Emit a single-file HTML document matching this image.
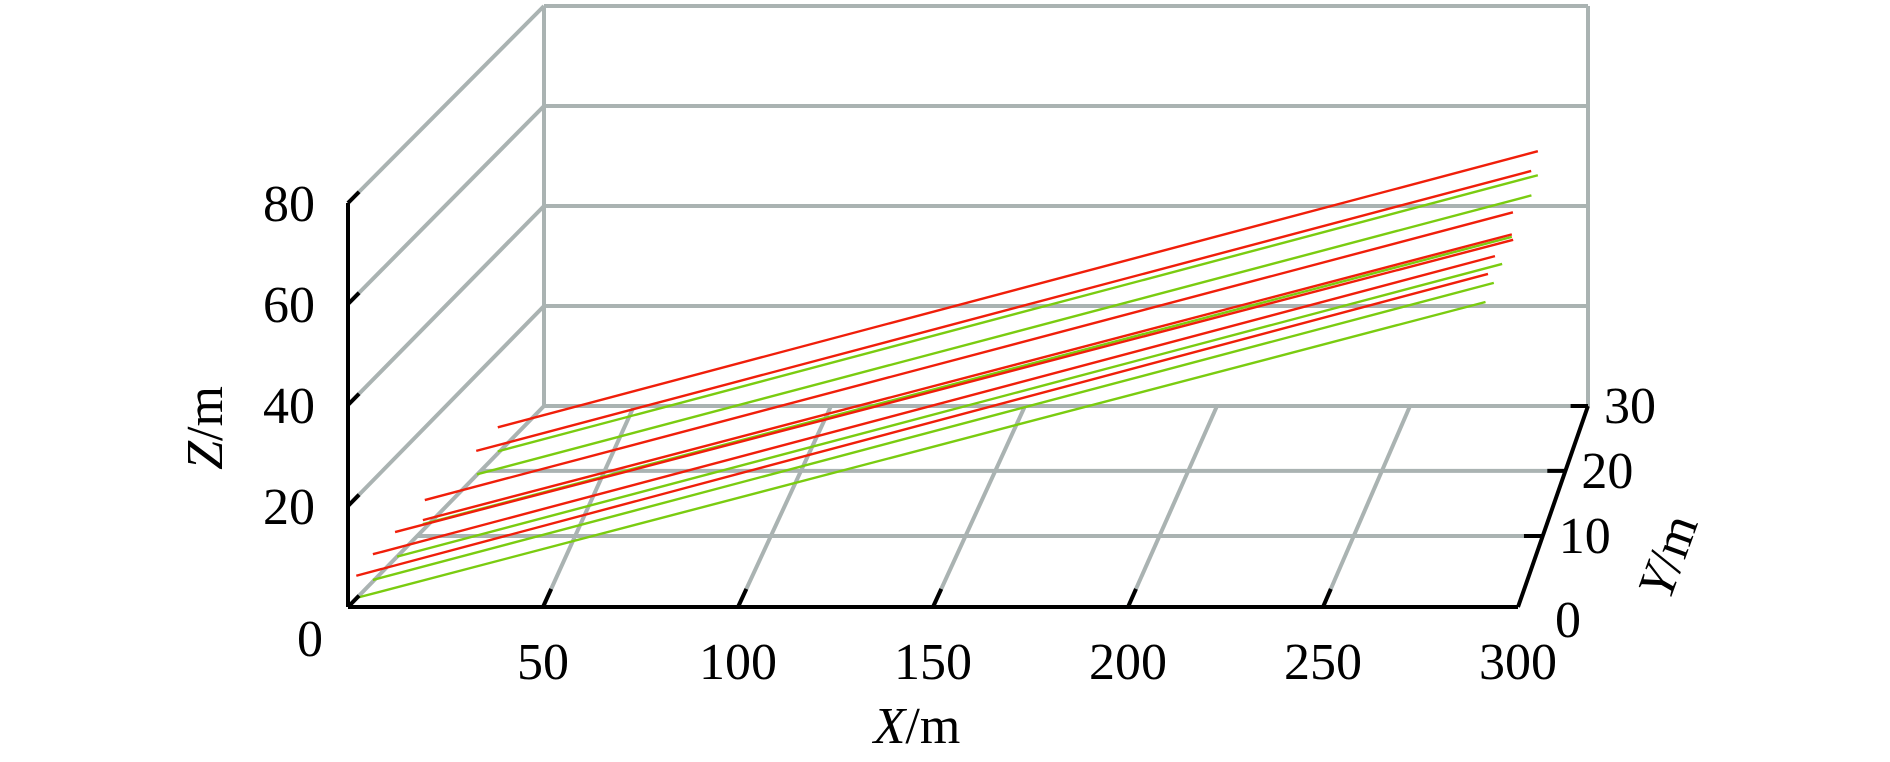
<!DOCTYPE html>
<html><head><meta charset="utf-8"><style>
html,body{margin:0;padding:0;background:#fff;}
svg{display:block;}
text{font-family:"Liberation Serif",serif;fill:#000;}
</style></head><body>
<svg id="chart" width="1890" height="762" viewBox="0 0 1890 762" xmlns="http://www.w3.org/2000/svg">
<g id="grid"></g>
<g id="series"></g>
<g id="axes"></g>
<g id="labels"></g>
</svg>
<script>
const xTicks = [50, 100, 150, 200, 250, 300];
const yTicks = [0, 10, 20, 30];
const zTicks = [0, 20, 40, 60, 80];
const lineType = ['red','green','red','green','red','green','red','red','green','red','green','red','green'];
const lineY  = [22.7, 22.7, 19.3, 19.4, 11.2, 10.9, 10.9, 6.8, 7.1, 3.6, 3.6, 1.2, 1.3];
const lineX0 = [0, 0, 0, 0, 0, 0, 0, 0, 0, 0, 0, 0, 0];
const lineX1 = [290.6, 290.6, 291, 291, 291.3, 291.2, 291.2, 294.3, 291.2, 291.7, 291.4, 291.5, 290.8];
const lineZ0 = [5.2, 0.4, 4.9, 0.1, 5.6, 1.2, 2.0, 5.3, 0, 5.4, 0.3, 4.5, 0];
const lineZ1 = [60.3, 55.5, 60.7, 55.7, 62.8, 58.3, 58.8, 63.3, 58.1, 64.5, 59.2, 64.3, 58.6];

const NS = 'http://www.w3.org/2000/svg';
const depthT = [0, 0.353, 0.677, 1];
// back-edge x positions of floor grid lines (layout)
const floorBackX = [634, 831, 1025, 1217, 1410];
function tOfY(y){
  const k = Math.min(2, Math.floor(y/10));
  return depthT[k] + (y - k*10)/10*(depthT[k+1]-depthT[k]);
}
function P(X, Y, Z){
  const t = tOfY(Y);
  const xl = 348 + 196*t, xr = 1518 + 70*t;
  const base = 607 - 201*t, zs = 5.05 - 0.05*t;
  return [xl + X*(xr-xl)/300, base - Z*zs];
}
function line(g, a, b, stroke, w, name){
  const l = document.createElementNS(NS,'line');
  l.setAttribute('x1',a[0]);l.setAttribute('y1',a[1]);
  l.setAttribute('x2',b[0]);l.setAttribute('y2',b[1]);
  l.setAttribute('stroke',stroke);l.setAttribute('stroke-width',w);
  
  
  g.appendChild(l);
}
function text(g, x, y, s, name, extra){
  const t = document.createElementNS(NS,'text');
  t.setAttribute('x',x);t.setAttribute('y',y);
  t.setAttribute('font-size','52');t.setAttribute('text-anchor','middle');
  if(extra) t.setAttribute('transform',extra);
  t.innerHTML = s;
  
  
  g.appendChild(t);
  return t;
}
const grid = document.getElementById('grid');
const G = '#aab3b2';
line(grid, P(0,30,0), P(0,30,80), G, 4, 'back-wall-left-edge');
line(grid, P(300,30,0), P(300,30,80), G, 4, 'back-wall-right-edge');
zTicks.forEach(z => {
  line(grid, P(0,30,z), P(300,30,z), G, 4, 'back-grid-z-' + z);
  line(grid, P(0,0,z), P(0,30,z), G, 4, 'left-grid-z-' + z);
});
[10,20].forEach(y => line(grid, P(0,y,0), P(300,y,0), G, 4, 'floor-grid-y-' + y));
const backY = P(0,30,0)[1];
xTicks.slice(0,5).forEach((x,i) => line(grid, P(x,0,0), [floorBackX[i], backY], G, 4, 'floor-grid-x-' + x));

const series = document.getElementById('series');
for(let i=0;i<lineType.length;i++){
  const a = P(lineX0[i], lineY[i], lineZ0[i]);
  const b = P(lineX1[i], lineY[i], lineZ1[i]);
  line(series, a, b, lineType[i]==='red' ? '#f01e0a' : '#7acc10', 2.4, 'series-line-' + lineType[i] + '-' + i);
}

const axes = document.getElementById('axes');
line(axes, P(0,0,0), P(0,0,80), '#000', 4, 'z-axis-line');
line(axes, P(0,0,0), P(300,0,0), '#000', 4, 'x-axis-line');
line(axes, P(300,0,0), P(300,30,0), '#000', 4, 'y-axis-line');
zTicks.forEach(z => line(axes, P(0,0,z), P(0,1.6,z), '#000', 4, 'z-tick-' + z));
xTicks.slice(0,5).forEach((x,i) => {
  const a = P(x,0,0);
  const f = 0.09;
  line(axes, a, [a[0] + (floorBackX[i]-a[0])*f, a[1] + (backY-a[1])*f], '#000', 4, 'x-tick-' + x);
});
yTicks.slice(1).forEach(y => line(axes, P(300,y,0), P(295,y,0), '#000', 4, 'y-tick-' + y));

const lab = document.getElementById('labels');
zTicks.forEach(z => {
  if(z===0){ text(lab, 310, 656, '0', 'z-tick-label-0'); return; }
  const p = P(0,0,z);
  text(lab, p[0]-59, p[1]+18, String(z), 'z-tick-label-' + z);
});
xTicks.forEach(x => {
  const p = P(x,0,0);
  text(lab, p[0], 679, String(x), 'x-tick-label-' + x);
});
yTicks.forEach(y => {
  const p = P(300,y,0);
  const dx = y===0 ? 50 : 42;
  const dy = y===0 ? 30 : 17;
  text(lab, p[0]+dx, p[1]+dy, String(y), 'y-tick-label-' + y);
});
text(lab, 917, 743, '<tspan font-style="italic">X</tspan>/m', 'x-axis-title');
text(lab, 0, 0, '<tspan font-style="italic">Z</tspan>/m', 'z-axis-title', 'translate(222,428) rotate(-90)');
text(lab, 0, 0, '<tspan font-style="italic">Y</tspan>/m', 'y-axis-title', 'translate(1684,562) rotate(-70)');
</script>
</body></html>
